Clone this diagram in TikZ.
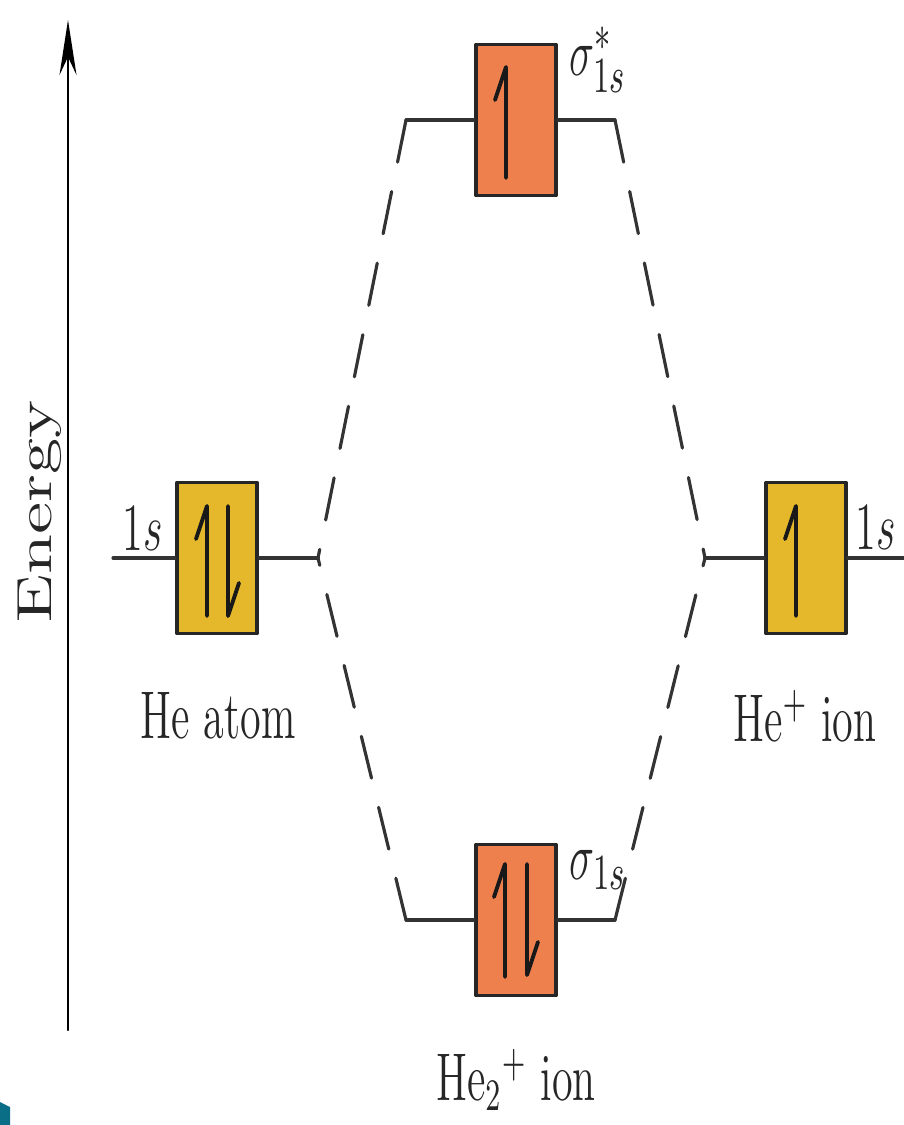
\documentclass[tikz,border=0pt]{standalone}
\usepackage{graphicx}
\usetikzlibrary{arrows.meta}
\tikzstyle{every node}=[font=\fontsize{12}{14}\selectfont,text=black!85]
\tikzstyle{every path}=[line width=0.8pt,line cap=round,line join=round]
\definecolor{mocolor}{RGB}{238,128,78}
\definecolor{aocolor}{RGB}{228,184,42}
\definecolor{slidecol}{RGB}{10,110,135}
% taller lettering
\newcommand{\tall}[1]{\scalebox{1}[1.6]{#1}}
\tikzset{
  orbital/.style={draw=black!85,line width=1pt,minimum width=8mm,minimum height=15.1mm,inner sep=0pt},
  ao/.style={orbital,fill=aocolor},
  mo/.style={orbital,fill=mocolor},
  level/.style={draw=black!80,line width=0.9pt},
  corr/.style={level,dash pattern=on 4.3mm off 3mm},
  spin/.style={line width=1.1pt,draw=black!90}
}

\begin{document}
\begin{tikzpicture}[x=0.1mm,y=-0.1mm]
  \useasboundingbox (0,0) rectangle (904,1125);
  \fill[white] (0,0) rectangle (904,1125);
  \fill[slidecol] (0,1102)--(10,1107)--(10,1125)--(0,1125)--cycle;

  % energy axis
  \coordinate (axbot) at (68,1030);
  \coordinate (axtop) at (68,20);
  \draw[-{Stealth[length=5.5mm,width=1.7mm,inset=1.8mm]},line width=0.6pt] (axbot) -- (axtop);
  \node[rotate=90,font=\fontsize{14}{16}\selectfont] (energy) at (40,512) {\scalebox{1.5}[1]{Energy}};

  % orbital boxes
  \node[ao] (lbox) at (217,558) {};
  \node[ao] (rbox) at (806,558) {};
  \node[mo] (tbox) at (516,120) {};
  \node[mo] (bbox) at (516,920) {};

  \coordinate (lend) at (113,558);
  \coordinate (rend) at (904,558);
  \coordinate (lfork) at (318,558);
  \coordinate (rfork) at (705,558);
  \coordinate (tl) at (406,120);
  \coordinate (tr) at (615,120);
  \coordinate (bl) at (406,920);
  \coordinate (br) at (615,920);

  % levels
  \draw[level] (lend) -- (lbox.west) (lbox.east) -- (lfork);
  \draw[level] (rfork) -- (rbox.west) (rbox.east) -- (rend);
  \draw[level] (tl) -- (tbox.west) (tbox.east) -- (tr);
  \draw[level] (bl) -- (bbox.west) (bbox.east) -- (br);

  % correlation lines
  \draw[corr] (tl) -- (lfork);
  \draw[corr] (bl) -- (lfork);
  \draw[corr] (tr) -- (rfork);
  \draw[corr] (br) -- (rfork);

  % electrons
  \draw[spin] (207,616) -- (207,506) -- (196,539);
  \draw[spin] (228,506) -- (228,616) -- (239,583);
  \draw[spin] (796,616) -- (796,506) -- (785,539);
  \draw[spin] (506,178) -- (506,67) -- (495,100);
  \draw[spin] (505,977) -- (505,864) -- (494,897);
  \draw[spin] (527,864) -- (527,975) -- (538,942);

  % labels
  \node (l1s) at (143,528) {\tall{1$s$}};
  \node (r1s) at (876,527) {\tall{1$s$}};
  \node[font=\fontsize{13}{15}\selectfont] (sigstar) at (598,60) {\tall{$\sigma^{*}_{1s}$}};
  \node[font=\fontsize{13}{15}\selectfont] (sig) at (598,870) {\tall{$\sigma_{1s}$}};
  \node (heatom) at (218,716) {\tall{He atom}};
  \node (heion) at (805,716) {\tall{He$^+$ ion}};
  \node (hetwo) at (516,1080) {\tall{He$_2{}^+$ ion}};
\end{tikzpicture}
\end{document}
